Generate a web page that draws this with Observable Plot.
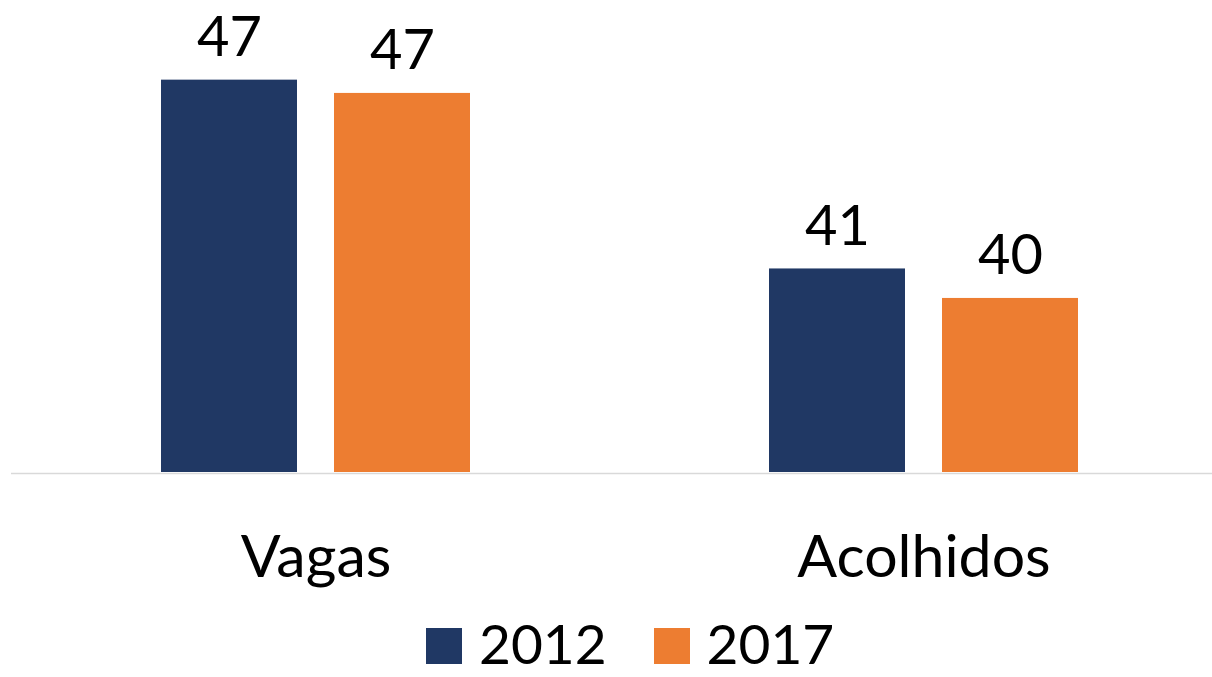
<!DOCTYPE html>
<html>
<head>
<meta charset="utf-8">
<script src="https://cdn.jsdelivr.net/npm/d3@7"></script>
<script src="https://cdn.jsdelivr.net/npm/@observablehq/plot@0.6"></script>
<style>
  html, body { margin: 0; padding: 0; background: #fff; overflow: hidden; }
  #chart { width: 1212px; }
  .legend { display: flex; justify-content: flex-start; align-items: center; height: 66px; padding-top: 1px; font-family: Lato, "Open Sans", sans-serif; font-size: 55px; line-height: 1; color: #000; padding-left: 426px; box-sizing: border-box; }
  .legend .item { display: flex; align-items: center; }
  .legend .sw { width: 36px; height: 36px; margin-right: 17px; margin-top: 4px; }
  .legend .item + .item { margin-left: 47px; }
</style>
</head>
<body>
<div id="chart"></div>
<script>
const categories = ["Vagas", "Acolhidos"];
const years = ["2012", "2017"];
const values2012 = [47.3, 40.9];
const values2017 = [46.85, 39.9];
const colors = ["#203864", "#ED7D31"];

const data = [];
categories.forEach((c, i) => {
  data.push({category: c, year: years[0], value: values2012[i]});
  data.push({category: c, year: years[1], value: values2017[i]});
});

const fmt = d3.format(".0f");
const font = "Lato, 'Open Sans', sans-serif";

const plot = Plot.plot({
  width: 1212,
  height: 610,
  marginTop: 0,
  marginBottom: 138,
  marginLeft: 161,
  marginRight: 133,
  style: {fontFamily: font, background: "white", overflow: "visible"},
  fx: {domain: categories, paddingInner: 0.491, paddingOuter: 0, label: null},
  x: {domain: years, paddingInner: 0.215, paddingOuter: 0, axis: null},
  y: {domain: [34, 50], axis: null},
  color: {domain: years, range: colors},
  marks: [
    Plot.barY(data, {fx: "category", x: "year", y1: 34, y2: "value", fill: "year"}),
    Plot.ruleY([{category: "Vagas", v: 34}], {fx: "category", y: "v", stroke: "#d9d9d9", strokeWidth: 1.5, insetLeft: -150, insetRight: -742, dy: 1}),
    Plot.text(data, {fx: "category", x: "year", y: "value", text: d => fmt(d.value), lineAnchor: "bottom", dy: -24, fontSize: 56, fill: "#000"}),
    Plot.axisFx({anchor: "bottom", tickSize: 0, tickPadding: 63, fontSize: 59, label: null, fill: "#000"})
  ]
});

document.getElementById("chart").appendChild(plot);

const legend = document.createElement("div");
legend.className = "legend";
years.forEach((y, i) => {
  const item = document.createElement("div");
  item.className = "item";
  const sw = document.createElement("div");
  sw.className = "sw";
  sw.style.background = colors[i];
  const t = document.createElement("span");
  t.textContent = y;
  item.appendChild(sw);
  item.appendChild(t);
  legend.appendChild(item);
});
document.body.appendChild(legend);
</script>
</body>
</html>
